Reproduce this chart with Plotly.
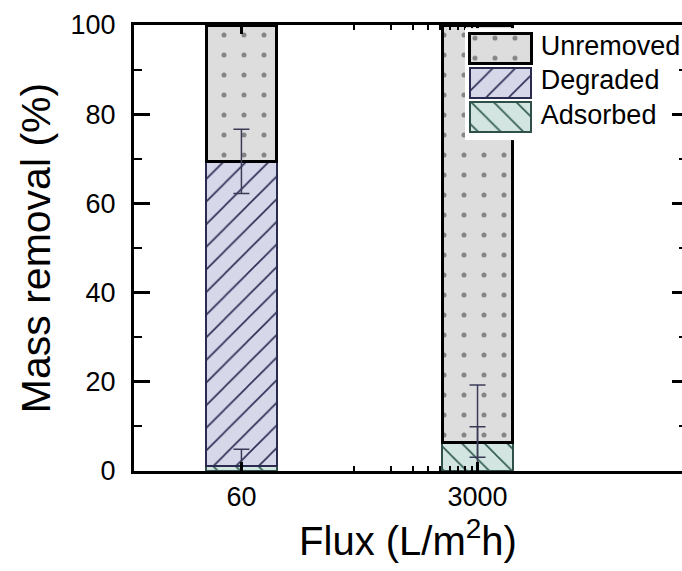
import plotly.graph_objects as go

# ---------------- data ----------------
categories = ["60", "3000"]            # flux, L/m2h
adsorbed = [1.2, 6.5]
degraded = [68.2, 0.0]
unremoved = [30.6, 93.5]
adsorbed_err = [3.7, 3.4]
degraded_err = [7.2, 12.8]
series_names = ["Unremoved", "Degraded", "Adsorbed"]

# ---------------- style ----------------
FONT = "Arial, Liberation Sans, sans-serif"
STY = {
    "Adsorbed": dict(bg="#d2e5e1", fg="#2f5a50", line="#2f5048", lw=2, shape="\\", size=16, sol=0.1),
    "Degraded": dict(bg="#d7d7ea", fg="#2c2c55", line="#2b2b4f", lw=2, shape="/", size=16, sol=0.1),
    "Unremoved": dict(bg="#dddddd", fg="#858585", line="#000000", lw=3, shape=".", size=20, sol=0.05),
}
ERR_COLOR = "#3b3b58"
minor_x_ticks = [0.477, 0.634, 0.727, 0.792, 0.843, 0.884, 0.919, 0.949, 0.976]

xs = list(range(len(categories)))
BAR_W = 0.30


def marker_for(name):
    s = STY[name]
    return dict(
        color=s["bg"],
        line=dict(color=s["line"], width=s["lw"]),
        pattern=dict(shape=s["shape"], fgcolor=s["fg"], bgcolor=s["bg"],
                     size=s["size"], solidity=s["sol"], fillmode="replace"),
    )


fig = go.Figure()

values = {"Adsorbed": adsorbed, "Degraded": degraded, "Unremoved": unremoved}
for name in ["Adsorbed", "Degraded", "Unremoved"]:
    fig.add_trace(go.Bar(x=xs, y=values[name], width=BAR_W, name=name,
                         marker=marker_for(name), showlegend=False,
                         xaxis="x", yaxis="y"))

# error bars at the top of each stacked segment (drawn above all bars)
tops_ads = adsorbed
tops_deg = [a + d for a, d in zip(adsorbed, degraded)]
for tops, errs in [(tops_ads, adsorbed_err), (tops_deg, degraded_err)]:
    fig.add_trace(go.Scatter(x=xs, y=tops, mode="markers",
                             marker=dict(size=1, opacity=0),
                             error_y=dict(type="data", array=errs, color=ERR_COLOR,
                                          thickness=1.5, width=8),
                             showlegend=False, hoverinfo="skip",
                             xaxis="x", yaxis="y"))

# dummy trace for right-side mirrored ticks
fig.add_trace(go.Scatter(x=[xs[0]], y=[0], mode="markers", marker=dict(opacity=0),
                         showlegend=False, hoverinfo="skip", xaxis="x", yaxis="y3"))

# -------- custom legend (separate overlapping subplot with white background) --------
for name in series_names:
    fig.add_trace(go.Bar(y=[name], x=[0.30], base=[0.024], orientation="h", width=0.87,
                         marker=marker_for(name), showlegend=False, hoverinfo="skip",
                         xaxis="x2", yaxis="y2"))
fig.add_trace(go.Scatter(x=[0.37] * len(series_names), y=series_names, mode="text",
                         text=series_names, textposition="middle right",
                         textfont=dict(family=FONT, size=27, color="black"),
                         cliponaxis=False, showlegend=False, hoverinfo="skip",
                         xaxis="x2", yaxis="y2"))

fig.update_layout(
    width=682, height=571,
    margin=dict(l=134, r=0, t=25, b=100),
    paper_bgcolor="white", plot_bgcolor="white",
    barmode="stack",
    font=dict(family=FONT, color="black"),
    xaxis=dict(
        domain=[0, 1],
        range=[-0.455, 1.866],
        tickmode="array", tickvals=xs, ticktext=categories,
        ticks="inside", ticklen=9, tickwidth=3, tickcolor="black",
        minor=dict(tickmode="array", tickvals=minor_x_ticks, ticks="inside",
                   ticklen=5, tickwidth=2, tickcolor="black"),
        showline=True, linewidth=3, linecolor="black", mirror="ticks",
        showgrid=False, zeroline=False,
        tickfont=dict(size=27, family=FONT),
        title=dict(text="Flux (L/m<sup>2</sup>h)", font=dict(size=40, family=FONT), standoff=16),
    ),
    yaxis=dict(
        range=[0, 100],
        tickmode="array", tickvals=[0, 20, 40, 60, 80, 100],
        ticks="inside", ticklen=16, tickwidth=3, tickcolor="black",
        minor=dict(tickmode="array", tickvals=[10, 30, 50, 70, 90], ticks="inside",
                   ticklen=8, tickwidth=2, tickcolor="black"),
        showline=True, linewidth=3, linecolor="black", mirror=False,
        showgrid=False, zeroline=False,
        tickfont=dict(size=27, family=FONT),
        ticklabelstandoff=10,
        title=dict(text="Mass removal (%)", font=dict(size=41, family=FONT), standoff=8),
    ),
    yaxis3=dict(
        overlaying="y", side="right", anchor="x", range=[0, 100],
        tickmode="array", tickvals=[0, 20, 40, 60, 80, 100],
        ticks="inside", ticklen=10, tickwidth=3, tickcolor="black",
        minor=dict(tickmode="array", tickvals=[10, 30, 50, 70, 90], ticks="inside",
                   ticklen=3, tickwidth=2, tickcolor="black"),
        showline=False, showticklabels=False, showgrid=False, zeroline=False,
    ),
    xaxis2=dict(domain=[0.604, 0.978], anchor="y2", range=[0, 1],
                showline=False, showticklabels=False, showgrid=False, zeroline=False,
                ticks=""),
    yaxis2=dict(domain=[0.742, 0.993], anchor="x2", type="category",
                range=[2.67, -0.58],
                showline=False, showticklabels=False, showgrid=False, zeroline=False,
                ticks=""),
)

fig.write_html("out.html")
